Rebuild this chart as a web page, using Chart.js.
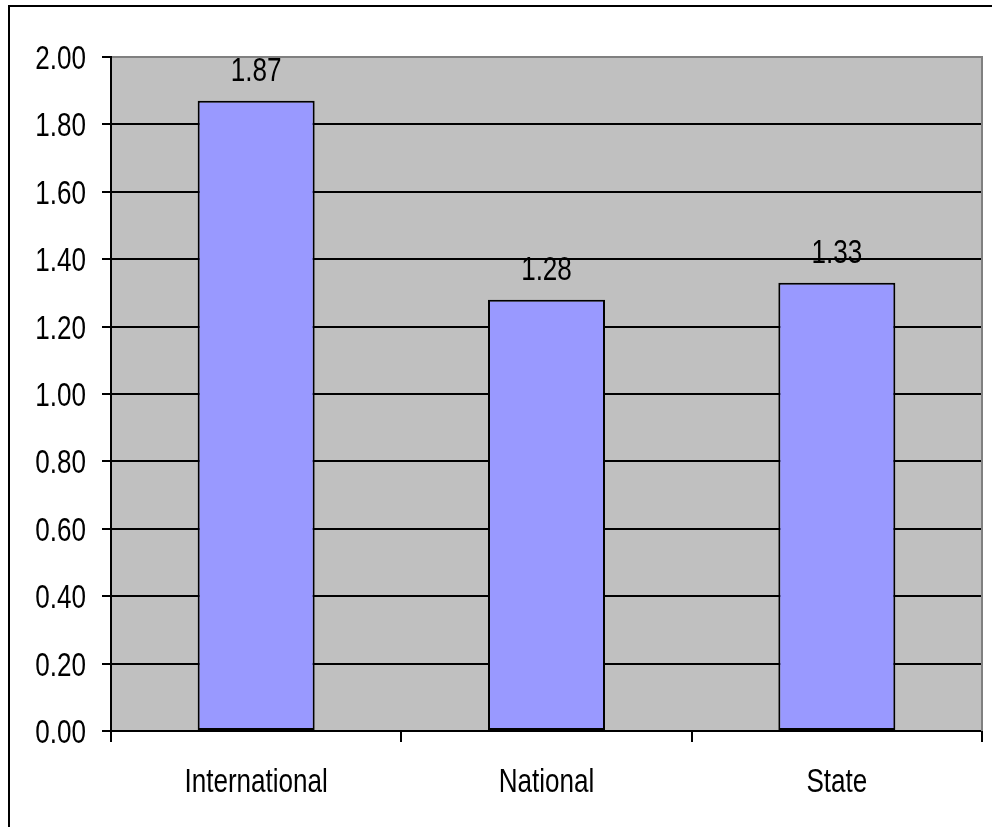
<!DOCTYPE html>
<html>
<head>
<meta charset="utf-8">
<title>International / National / State</title>
<script src="https://cdn.jsdelivr.net/npm/chart.js@4"></script>
<style>
  html, body { margin: 0; padding: 0; background: #fff; }
  #wrap { position: relative; width: 992px; height: 827px; }
</style>
</head>
<body>
<div id="wrap"><canvas id="barChart" width="992" height="827"></canvas></div>
<script>
// 차트 데이터
const categories = ['International', 'National', 'State'];
const values = [1.87, 1.28, 1.33];
const yTicks = [0, 0.2, 0.4, 0.6, 0.8, 1.0, 1.2, 1.4, 1.6, 1.8, 2.0];

// 원본은 가로로 좁은 글꼴 -> 가로 축소해서 그림
const FONT = "33px 'Liberation Sans', Arial, sans-serif";
const SQUEEZE = 0.79;

function drawText(ctx, text, x, y, align) {
  ctx.save();
  ctx.translate(x, y);
  ctx.scale(SQUEEZE, 1);
  ctx.font = FONT;
  ctx.fillStyle = '#000';
  ctx.textAlign = align;
  ctx.textBaseline = 'alphabetic';
  ctx.fillText(text, 0, 0);
  ctx.restore();
}

// 배경, 바깥 테두리, 값 레이블 (그리드 아래에 그림)
const backdrop = {
  id: 'backdrop',
  beforeDraw(chart) {
    const { ctx, chartArea: a } = chart;
    ctx.save();
    ctx.fillStyle = '#fff';
    ctx.fillRect(0, 0, chart.width, chart.height);
    ctx.strokeStyle = '#000';
    ctx.lineWidth = 2;
    ctx.strokeRect(9, 6, chart.width + 20, chart.height + 20);
    ctx.fillStyle = '#c0c0c0';
    ctx.fillRect(a.left, a.top, a.right - a.left, a.bottom - a.top);
    ctx.restore();
    // 값 레이블
    chart.getDatasetMeta(0).data.forEach((bar, i) => {
      drawText(ctx, values[i].toFixed(2), bar.x, bar.y - 20, 'center');
    });
  },
  beforeDatasetsDraw(chart) {
    const { ctx, chartArea: a } = chart;
    ctx.save();
    ctx.strokeStyle = '#808080';
    ctx.lineWidth = 2;
    ctx.beginPath();
    ctx.moveTo(a.left + 1, a.top);
    ctx.lineTo(a.right, a.top);
    ctx.lineTo(a.right, a.bottom);
    ctx.stroke();
    ctx.restore();
  },
  afterDraw(chart) {
    const { ctx, scales } = chart;
    // Y축 눈금 레이블
    yTicks.forEach(v => {
      const y = scales.y.getPixelForValue(v);
      drawText(ctx, v.toFixed(2), scales.y.right - 25, y + 12, 'right');
    });
    // X축 카테고리 레이블
    categories.forEach((c, i) => {
      const x = scales.x.getPixelForValue(i);
      drawText(ctx, c, x, scales.x.top + 61, 'center');
    });
  }
};

new Chart(document.getElementById('barChart'), {
  type: 'bar',
  data: {
    labels: categories,
    datasets: [{
      data: values,
      backgroundColor: '#9999ff',
      borderColor: '#000',
      borderWidth: 2,
      borderSkipped: false,
      categoryPercentage: 1,
      barPercentage: 0.403
    }]
  },
  options: {
    responsive: false,
    animation: false,
    events: [],
    layout: { padding: { left: 0, top: 57, right: 10, bottom: 0 } },
    plugins: {
      legend: { display: false },
      tooltip: { enabled: false }
    },
    scales: {
      x: {
        afterFit(scale) { scale.height = 96; },
        grid: {
          offset: true,
          drawOnChartArea: false,
          drawTicks: true,
          tickLength: 11,
          color: '#000',
          lineWidth: 2
        },
        border: { display: true, color: '#000', width: 2 },
        ticks: { display: false }
      },
      y: {
        min: 0,
        max: 2,
        afterFit(scale) { scale.width = 111; },
        afterBuildTicks(scale) { scale.ticks = yTicks.map(v => ({ value: v })); },
        grid: {
          color: '#000',
          lineWidth: 2,
          drawTicks: true,
          tickLength: 9
        },
        border: { display: true, color: '#000', width: 2 },
        ticks: { display: false }
      }
    }
  },
  plugins: [backdrop]
});
</script>
</body>
</html>
